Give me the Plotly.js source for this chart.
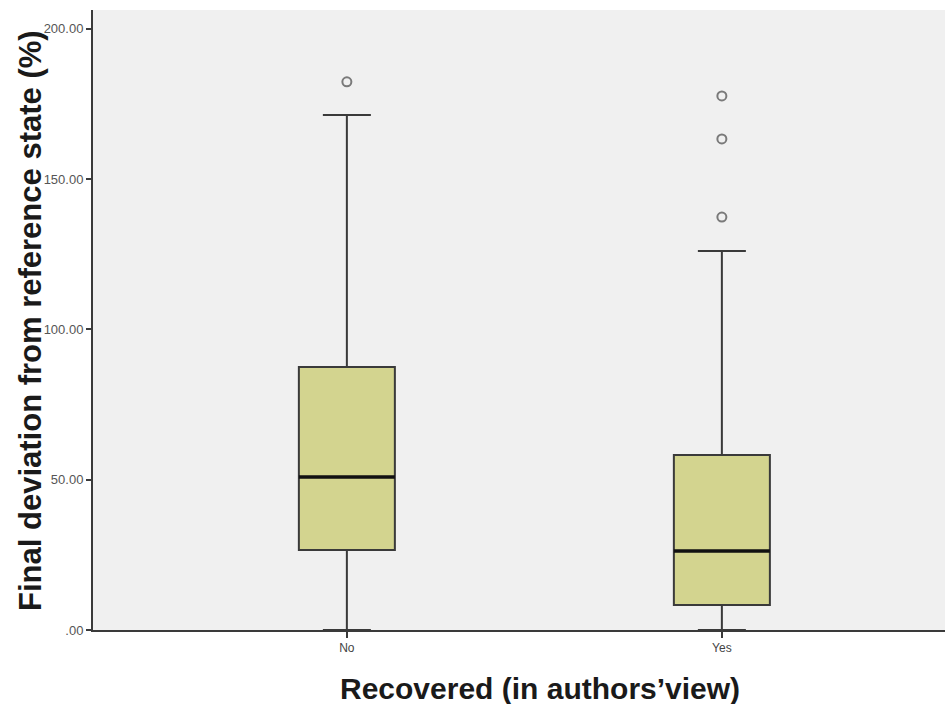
<!DOCTYPE html>
<html>
<head>
<meta charset="utf-8">
<script src="https://cdn.plot.ly/plotly-3.0.1.min.js"></script>
<style>html,body{margin:0;padding:0;background:#fff;}#chart{width:945px;height:704px;}</style>
</head>
<body>
<div id="chart"></div>
<script>
const categories = ["No", "Yes"];
const lowerFence = [0, 0];
const q1 = [26.6, 8.3];
const median = [50.9, 26.3];
const q3 = [87.5, 58.2];
const upperFence = [171.4, 126.1];
const outliersNo = [182.4];
const outliersYes = [177.7, 163.4, 137.4];
const yTickVals = [0, 50, 100, 150, 200];
const yTickText = [".00", "50.00", "100.00", "150.00", "200.00"];
const xTitle = 'Recovered (in authors\u2019view)';
const yTitle = 'Final deviation from reference state (%)';

const boxW = 0.256;
const pos = categories.map((c, i) => i);

const traces = [];
traces.push({
  type: 'box',
  x: pos,
  q1: q1, median: median, q3: q3,
  lowerfence: lowerFence, upperfence: upperFence,
  width: boxW,
  whiskerwidth: 0.5,
  fillcolor: '#d3d48f',
  line: {color: '#3a3a3a', width: 2},
  boxpoints: false,
  hoverinfo: 'skip',
  showlegend: false
});
pos.forEach((p, i) => {
  traces.push({
    type: 'scatter', mode: 'lines',
    x: [p - boxW / 2, p + boxW / 2], y: [median[i], median[i]],
    line: {color: '#111', width: 3.5},
    hoverinfo: 'skip', showlegend: false
  });
});
const outs = [outliersNo, outliersYes];
outs.forEach((arr, i) => {
  traces.push({
    type: 'scatter', mode: 'markers',
    x: arr.map(() => pos[i]), y: arr,
    marker: {symbol: 'circle-open', size: 9, color: '#7a7a7a', line: {width: 2, color: '#7a7a7a'}},
    hoverinfo: 'skip', showlegend: false
  });
});

const font = 'Liberation Sans, Arial, sans-serif';
const layout = {
  width: 945, height: 704,
  margin: {l: 93, r: 0, t: 10, b: 74},
  paper_bgcolor: '#ffffff',
  plot_bgcolor: '#f0f0f0',
  showlegend: false,
  xaxis: {
    range: [-0.677, 1.595],
    tickvals: pos, ticktext: categories,
    showgrid: false, zeroline: false,
    showline: true, linecolor: '#3a3a3a', linewidth: 2,
    ticks: 'outside', ticklen: 6, tickwidth: 2, tickcolor: '#3a3a3a',
    tickfont: {family: font, size: 12, color: '#444'}
  },
  yaxis: {
    range: [0, 206.3],
    tickvals: yTickVals, ticktext: yTickText,
    showgrid: false, zeroline: false,
    showline: true, linecolor: '#3a3a3a', linewidth: 2,
    ticks: 'outside', ticklen: 5, tickwidth: 2, tickcolor: '#3a3a3a',
    ticklabelstandoff: 0,
    tickfont: {family: font, size: 13, color: '#555'}
  },
  annotations: [
    {text: xTitle, xref: 'paper', yref: 'paper', x: 0.5246, y: -0.095,
     xanchor: 'center', yanchor: 'middle', showarrow: false,
     font: {family: font, size: 30, color: '#1a1a1a', weight: 'bold'}},
    {text: yTitle, xref: 'paper', yref: 'paper', x: -0.074, y: 0.5,
     xanchor: 'center', yanchor: 'middle', textangle: -90, showarrow: false,
     font: {family: font, size: 31, color: '#1a1a1a', weight: 'bold'}}
  ]
};
Plotly.newPlot('chart', traces, layout, {displayModeBar: false, staticPlot: true});
</script>
</body>
</html>
